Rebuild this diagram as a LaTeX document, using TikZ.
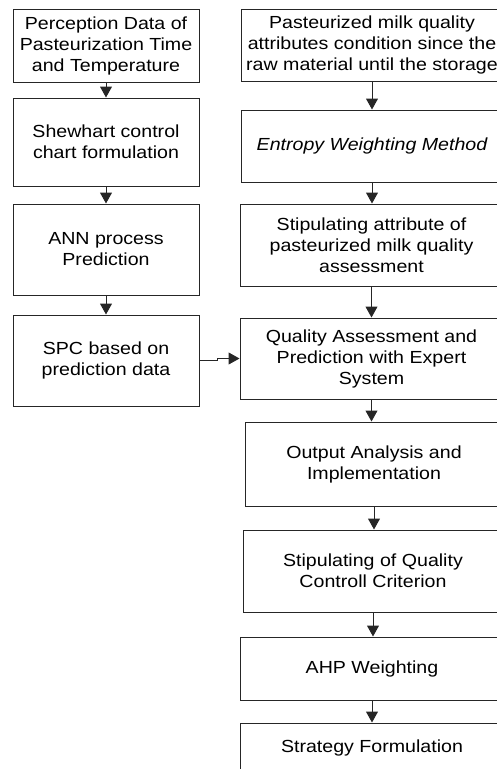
\documentclass[tikz,border=0pt]{standalone}
\usepackage{fontspec}
\setmainfont[FakeStretch=1.12]{Liberation Sans}
\usetikzlibrary{arrows.meta}
\tikzset{
  box/.style={draw=black!85, line width=1pt, rectangle, inner sep=0pt, align=center,
    font=\fontsize{17.5}{21}\selectfont},
  arr/.style={draw=black!85, line width=1pt, -{Triangle[width=12pt,length=11pt]}}
}
\begin{document}
\begin{tikzpicture}[x=1pt,y=-1pt]
\useasboundingbox (0,0) rectangle (497,769);
\clip (0,0) rectangle (497,769);
% left column
\node[box, minimum width=186pt, minimum height=73pt] (L1) at (106,45.5) {Perception Data of\\Pasteurization Time\\and Temperature};
\node[box, minimum width=186pt, minimum height=88pt] (L2) at (106,142) {Shewhart control\\chart formulation};
\node[box, minimum width=186pt, minimum height=91pt] (L3) at (106,249.5) {ANN process\\Prediction};
\node[box, minimum width=186pt, minimum height=91pt] (L4) at (106,360.5) {SPC based on\\prediction data};
% right column
\node[box, minimum width=262pt, minimum height=72pt] (R1) at (372,45) {Pasteurized milk quality\\attributes condition since the\\raw material until the storage};
\node[box, minimum width=262pt, minimum height=72pt] (R2) at (372,146) {\itshape Entropy Weighting Method};
\node[box, minimum width=263pt, minimum height=82pt] (R3) at (371.5,245) {Stipulating attribute of\\pasteurized milk quality\\assessment};
\node[box, minimum width=263pt, minimum height=81pt] (R4) at (371.5,358.5) {Quality Assessment and\\Prediction with Expert\\System};
\node[box, minimum width=258pt, minimum height=84pt] (R5) at (374,464) {Output Analysis and\\Implementation};
\node[box, minimum width=260pt, minimum height=82pt] (R6) at (373,571) {Stipulating of Quality\\Controll Criterion};
\node[box, minimum width=264pt, minimum height=63pt] (R7) at (372,668.5) {AHP Weighting};
\node[box, minimum width=264pt, minimum height=50pt] (R8) at (372,748) {Strategy Formulation};
% arrows
\draw[arr] (L1.south) -- (L2.north);
\draw[arr] (L2.south) -- (L3.north);
\draw[arr] (L3.south) -- (L4.north);
\draw[arr] (R1.south) -- (R1.south |- R2.north);
\draw[arr] (R2.south) -- (R2.south |- R3.north);
\draw[arr] (R3.south) -- (R3.south |- R4.north);
\draw[arr] (R4.south) -- (R4.south |- R5.north);
\draw[arr] (R5.south) -- (R5.south |- R6.north);
\draw[arr] (R6.south) -- (R6.south |- R7.north);
\draw[arr] (R7.south) -- (R7.south |- R8.north);
\draw[arr] (L4.east) -- ++(18,0) |- (R4.west);
\end{tikzpicture}
\end{document}
